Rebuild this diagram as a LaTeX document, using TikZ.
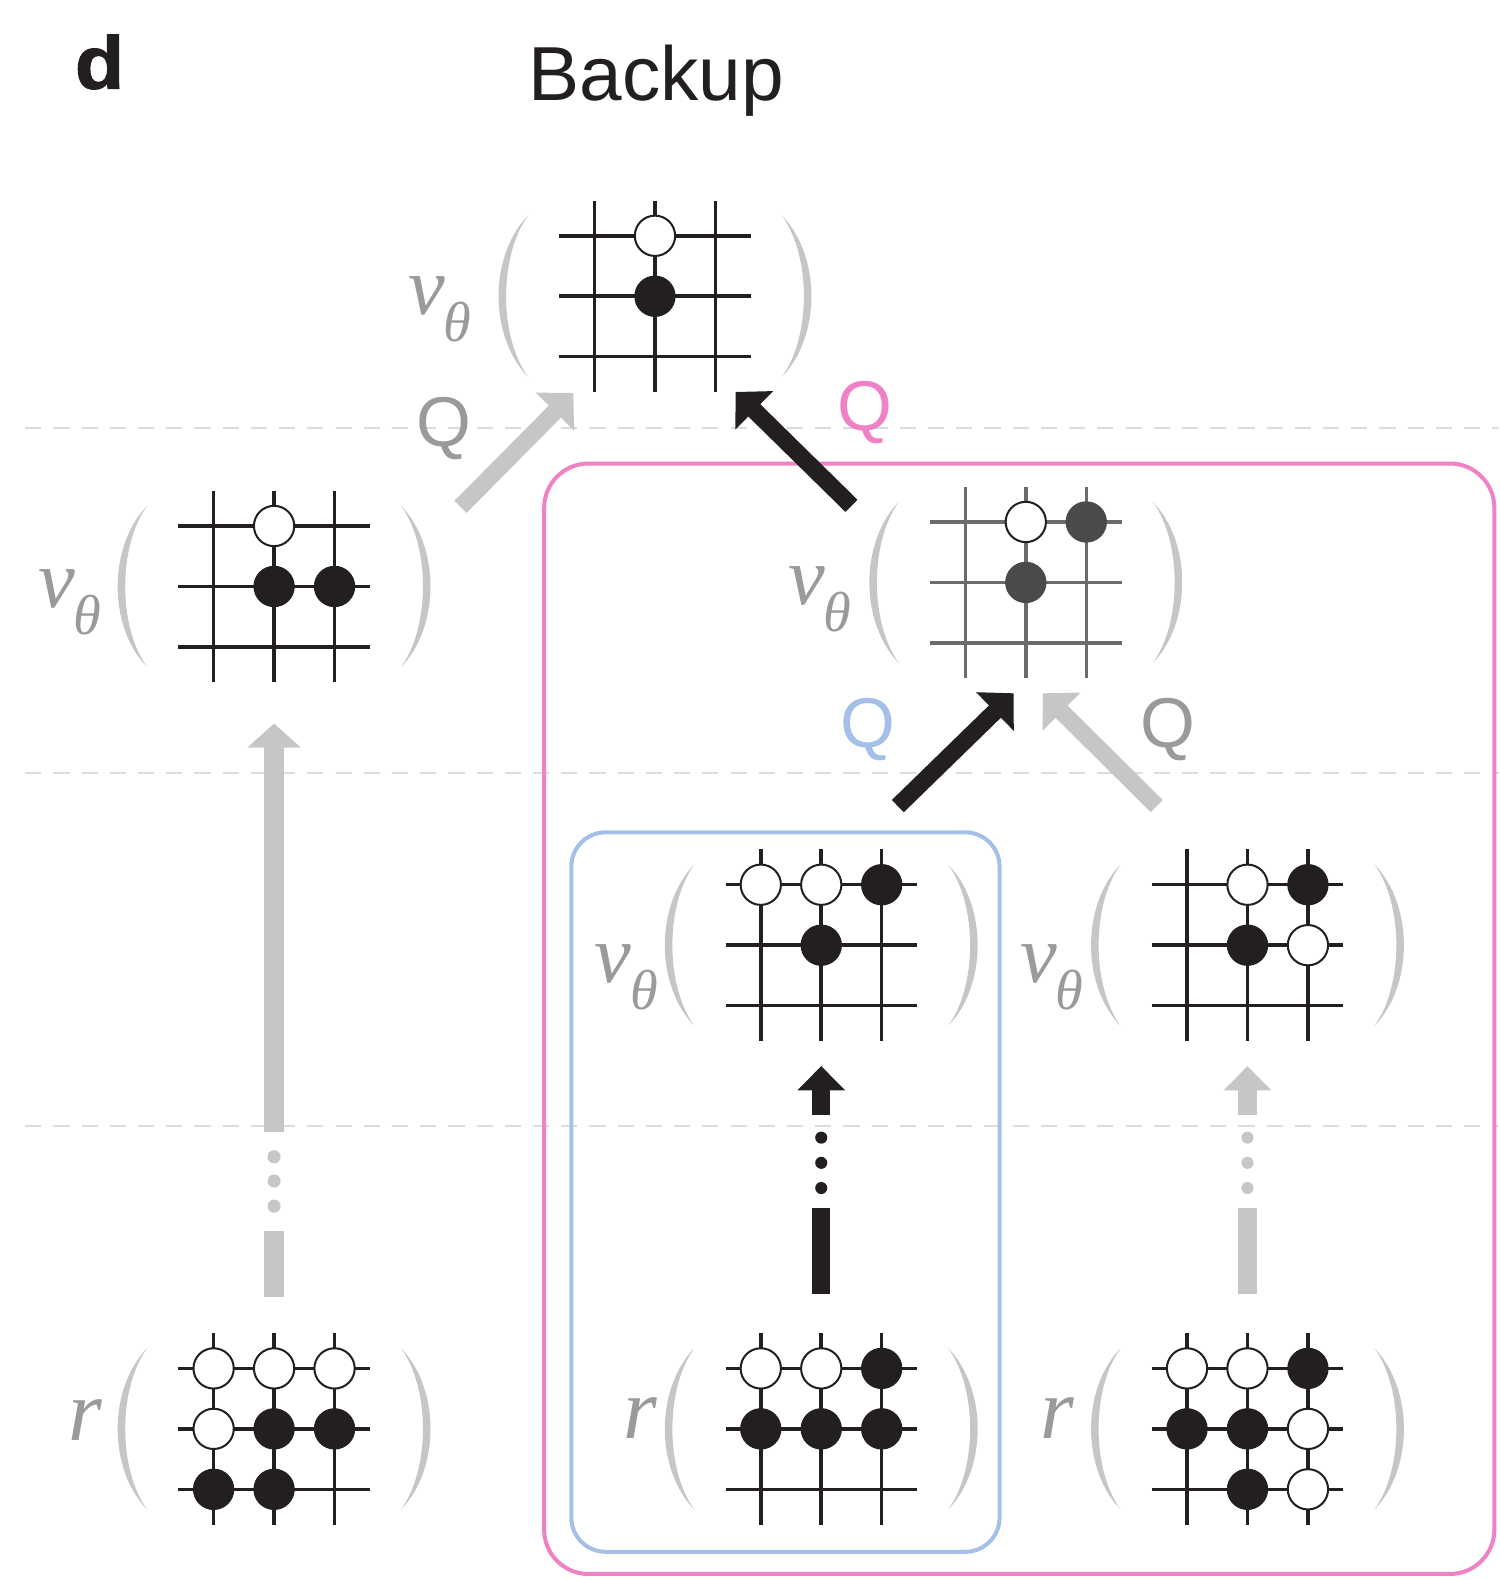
\documentclass[tikz,border=0pt]{standalone}
\usepackage{fontspec}
\setmainfont{Liberation Sans}
\newfontfamily\serifit{Liberation Serif}
\newfontfamily\heavyfont{Liberation Sans}[UprightFont={* Bold}, FakeBold=1.5]
\usetikzlibrary{arrows.meta}
\definecolor{pinkc}{HTML}{EE82C4}
\definecolor{bluec}{HTML}{A4BFE8}
\definecolor{lgray}{HTML}{C6C6C6}
\definecolor{qgray}{HTML}{9A9A9A}
\definecolor{ink}{HTML}{231F20}
\definecolor{dashc}{HTML}{DCDCDC}
\definecolor{midgray}{HTML}{6B6B6B}
\definecolor{stonegray}{HTML}{4A4A4A}
\tikzset{
  gridline/.style={line width=1.75pt},
  wstone/.style={fill=white, draw=ink, line width=1pt},
  bstone/.style={fill=ink, draw=ink, line width=0.5pt},
  gstone/.style={fill=stonegray, draw=stonegray, line width=0.5pt},
  parenfill/.style={fill=lgray, draw=none},
  levelline/.style={dashc, line width=1pt, dash pattern=on 8pt off 6pt},
  lbl/.style={anchor=base west, inner sep=0pt, text=qgray},
  qlbl/.style={inner sep=0pt, font=\fontsize{35}{35}\selectfont},
  diagarrow/.style={line width=8.5pt, -{Triangle[width=26pt,length=13pt]}},
}
\newcommand\Board[3]{%
  \foreach \i in {-60,0,60}{%
    \draw[gridline,#3] ({#1+\i},{#2-95}) -- ({#1+\i},{#2+95});
    \draw[gridline,#3] ({#1-95},{#2+\i}) -- ({#1+95},{#2+\i});
  }%
  \fill[parenfill] ({#1-126},{#2-80}) .. controls ({#1-165},{#2-40}) and ({#1-165},{#2+40}) .. ({#1-126},{#2+80})
     .. controls ({#1-155},{#2+40}) and ({#1-155},{#2-40}) .. cycle;
  \fill[parenfill] ({#1+126},{#2-80}) .. controls ({#1+165},{#2-40}) and ({#1+165},{#2+40}) .. ({#1+126},{#2+80})
     .. controls ({#1+155},{#2+40}) and ({#1+155},{#2-40}) .. cycle;
}
\newcommand\Wst[2]{\draw[wstone] (#1,#2) circle[radius=20];}
\newcommand\Bst[2]{\draw[bstone] (#1,#2) circle[radius=20];}
\newcommand\Gst[2]{\draw[gstone] (#1,#2) circle[radius=20];}
\newcommand\NuLabel[3]{%
  \node[lbl, font=\serifit\itshape\fontsize{41}{41}\selectfont] (#3nu) at (#1,#2) {ν};
  \node[lbl, font=\serifit\itshape\fontsize{28}{28}\selectfont] (#3th) at ({#1+35},{#2+27}) {θ};
}
\newcommand\RLabel[3]{%
  \node[lbl, font=\serifit\itshape\fontsize{43}{43}\selectfont] (#3r) at (#1,#2) {r};
}
\begin{document}
\begin{tikzpicture}[x=0.5pt, y=-0.5pt]
\useasboundingbox (0,0) rectangle (1488,1568);

% level lines
\draw[levelline] (25,425) -- (1488,425);
\draw[levelline] (25,767) -- (1488,767);
\draw[levelline] (25,1117) -- (1488,1117);

% grouping boxes
\draw[pinkc, line width=2pt, rounded corners=22pt] (540,460) rectangle (1483,1562);
\draw[bluec, line width=2pt, rounded corners=17pt] (567,826) rectangle (992,1540);

% titles
\node[anchor=base west, inner sep=0pt, font=\heavyfont\fontsize{37}{37}\selectfont, text=ink, xscale=1.08] (panel) at (74,88) {d};
\node[anchor=base west, inner sep=0pt, font=\fontsize{38}{38}\selectfont, text=ink] (title) at (524,100) {Backup};

% top board
\coordinate (btop) at (650,294);
\Board{650}{294}{ink}
\Wst{650}{234} \Bst{650}{294}
\NuLabel{405}{312}{top}

% left middle board
\coordinate (bleft) at (272,582);
\Board{272}{582}{ink}
\Wst{272}{522} \Bst{272}{582} \Bst{332}{582}
\NuLabel{38}{603}{left}

% right middle board (gray)
\coordinate (bmid) at (1018,578);
\Board{1018}{578}{midgray}
\Wst{1018}{518} \Gst{1078}{518} \Gst{1018}{578}
\NuLabel{782}{600}{mid}

% blue-box value board
\coordinate (bblue) at (815,938);
\Board{815}{938}{ink}
\Wst{755}{878} \Wst{815}{878} \Bst{875}{878} \Bst{815}{938}
\NuLabel{590}{975}{blue}

% right value board
\coordinate (bright) at (1238,938);
\Board{1238}{938}{ink}
\Wst{1238}{878} \Bst{1298}{878} \Bst{1238}{938} \Wst{1298}{938}
\NuLabel{1012}{975}{right}

% bottom reward boards
\coordinate (rleft) at (272,1418);
\Board{272}{1418}{ink}
\Wst{212}{1358} \Wst{272}{1358} \Wst{332}{1358}
\Wst{212}{1418} \Bst{272}{1418} \Bst{332}{1418}
\Bst{212}{1478} \Bst{272}{1478}
\RLabel{68}{1430}{rl}

\coordinate (rmid) at (815,1418);
\Board{815}{1418}{ink}
\Wst{755}{1358} \Wst{815}{1358} \Bst{875}{1358}
\Bst{755}{1418} \Bst{815}{1418} \Bst{875}{1418}
\RLabel{618}{1428}{rm}

\coordinate (rright) at (1238,1418);
\Board{1238}{1418}{ink}
\Wst{1178}{1358} \Wst{1238}{1358} \Bst{1298}{1358}
\Bst{1178}{1418} \Bst{1238}{1418} \Wst{1298}{1418}
\Bst{1238}{1478} \Wst{1298}{1478}
\RLabel{1032}{1428}{rr}

% diagonal backup arrows
\coordinate (a1s) at (457,503); \coordinate (a1t) at (569,390);
\coordinate (a2s) at (845,502); \coordinate (a2t) at (730,389);
\coordinate (a3s) at (891,800); \coordinate (a3t) at (1006,688);
\coordinate (a4s) at (1148,800); \coordinate (a4t) at (1035,688);
\draw[diagarrow, lgray] (a1s) -- (a1t);
\draw[diagarrow, ink] (a2s) -- (a2t);
\draw[diagarrow, ink] (a3s) -- (a3t);
\draw[diagarrow, lgray] (a4s) -- (a4t);

% Q labels
\node[qlbl, text=qgray] (q1) at (441,425) {Q};
\node[qlbl, text=pinkc] (q2) at (858,409) {Q};
\node[qlbl, text=bluec] (q3) at (861,724) {Q};
\node[qlbl, text=qgray] (q4) at (1159,724) {Q};

% vertical rollout arrows (left, gray)
\coordinate (v1s) at (272,1123); \coordinate (v1t) at (272,718);
\coordinate (v1a) at (272,1222); \coordinate (v1b) at (272,1287);
\draw[lgray, line width=10pt, -{Triangle[width=26pt,length=12pt]}] (v1s) -- (v1t);
\foreach \y in {1148,1172,1197} \fill[lgray] (272,\y) circle[radius=6.5];
\draw[lgray, line width=10pt] (v1a) -- (v1b);

% vertical rollout arrows (middle, black)
\coordinate (v2s) at (815,1107); \coordinate (v2t) at (815,1058);
\coordinate (v2a) at (815,1199); \coordinate (v2b) at (815,1284);
\draw[ink, line width=9pt, -{Triangle[width=23pt,length=12pt]}] (v2s) -- (v2t);
\foreach \y in {1129,1154,1179} \fill[ink] (815,\y) circle[radius=6];
\draw[ink, line width=9pt] (v2a) -- (v2b);

% vertical rollout arrows (right, gray)
\coordinate (v3s) at (1238,1107); \coordinate (v3t) at (1238,1058);
\coordinate (v3a) at (1238,1199); \coordinate (v3b) at (1238,1284);
\draw[lgray, line width=9pt, -{Triangle[width=23pt,length=12pt]}] (v3s) -- (v3t);
\foreach \y in {1129,1154,1179} \fill[lgray] (1238,\y) circle[radius=6];
\draw[lgray, line width=9pt] (v3a) -- (v3b);
\end{tikzpicture}
\end{document}
